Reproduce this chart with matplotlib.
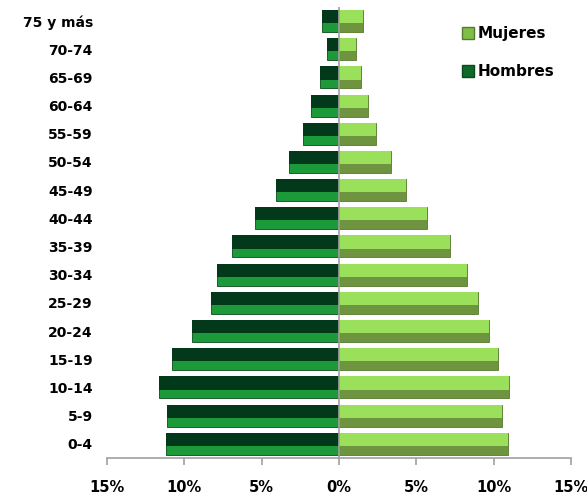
import matplotlib.pyplot as plt
from matplotlib.ticker import FuncFormatter
from matplotlib.patches import Patch

# Grupos de edad (de abajo hacia arriba)
grupos = ['0-4', '5-9', '10-14', '15-19', '20-24', '25-29', '30-34', '35-39',
          '40-44', '45-49', '50-54', '55-59', '60-64', '65-69', '70-74', '75 y más']
hombres = [11.2, 11.1, 11.6, 10.8, 9.5, 8.3, 7.9, 6.9,
           5.4, 4.1, 3.2, 2.3, 1.8, 1.2, 0.75, 1.1]
mujeres = [10.95, 10.5, 11.0, 10.3, 9.7, 9.0, 8.3, 7.2,
           5.7, 4.3, 3.35, 2.4, 1.9, 1.45, 1.1, 1.55]

pos = list(range(len(grupos)))
h = 0.78

fig = plt.figure(figsize=(5.87, 4.96), dpi=100)
ax = fig.add_axes([0.182, 0.077, 0.791, 0.909])

# Hombres: barra completa (verde claro) + parte superior oscura
neg = [-v for v in hombres]
ax.barh(pos, neg, height=h, color='#1c9a3a', edgecolor='#0b4a1a', linewidth=0.6)
ax.barh([p + h / 5 for p in pos], neg, height=h * 0.6, color='#02391a', linewidth=0)

# Mujeres: barra completa (oliva) + parte superior clara
ax.barh(pos, mujeres, height=h, color='#6e9440', edgecolor='#557a2c', linewidth=0.6)
ax.barh([p + h / 5 for p in pos], mujeres, height=h * 0.6, color='#9be05a', linewidth=0)

ax.axvline(0, color='#a0a0a0', linewidth=1.2)

ax.set_xlim(-15, 15)
ax.set_ylim(-0.5, len(grupos) - 0.5)
ax.set_xticks([-15, -10, -5, 0, 5, 10, 15])
ax.xaxis.set_major_formatter(FuncFormatter(lambda x, p: f'{abs(int(x))}%'))
ax.set_yticks(pos)
ax.set_yticklabels(grupos)

for s in ['top', 'right', 'left']:
    ax.spines[s].set_visible(False)
ax.spines['bottom'].set_color('#a0a0a0')
ax.spines['bottom'].set_linewidth(1.2)
ax.tick_params(axis='x', colors='#a0a0a0', length=5, width=1.2, labelcolor='black',
               labelsize=10.5, pad=11)
ax.tick_params(axis='y', length=0, labelsize=10, pad=10)
for lbl in ax.get_xticklabels() + ax.get_yticklabels():
    lbl.set_fontweight('bold')

handles = [Patch(facecolor='#7fbf48', edgecolor='#557a2c', label='Mujeres'),
           Patch(facecolor='#0d6a28', edgecolor='#0b4a1a', label='Hombres')]
leg = fig.legend(handles=handles, loc='upper left', bbox_to_anchor=(0.763, 0.975),
                 frameon=False, handlelength=0.8, handleheight=0.8, handletextpad=0.25,
                 labelspacing=1.5, prop={'weight': 'bold', 'size': 11})

fig.savefig('out.png', dpi=100)
